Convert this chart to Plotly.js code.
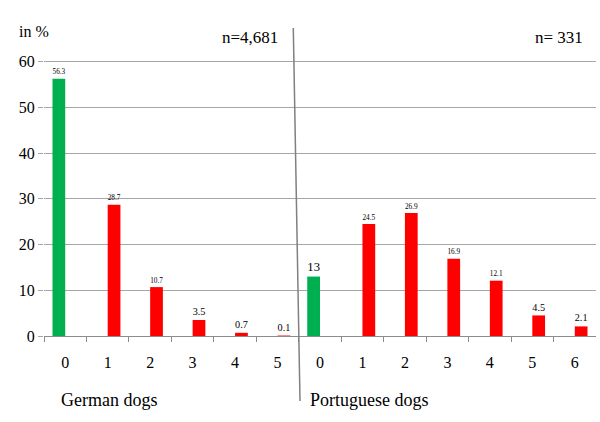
<!DOCTYPE html>
<html>
<head>
<meta charset="utf-8">
<script src="https://cdn.plot.ly/plotly-3.0.1.min.js"></script>
<style>html,body{margin:0;padding:0;background:#fff;}#chart{width:600px;height:422px;}</style>
</head>
<body>
<div id="chart"></div>
<script>
// Data
var germanLabels = ["0", "1", "2", "3", "4", "5"];
var germanValues = [56.3, 28.7, 10.7, 3.5, 0.7, 0.1];
var portugueseLabels = ["0", "1", "2", "3", "4", "5", "6"];
var portugueseValues = [13, 24.5, 26.9, 16.9, 12.1, 4.5, 2.1];
var groupNames = ["German dogs", "Portuguese dogs"];
var sampleSizes = ["n=4,681", "n= 331"];
var yTicks = [0, 10, 20, 30, 40, 50, 60];

var tickText = germanLabels.concat(portugueseLabels);
var allValues = germanValues.concat(portugueseValues);
var positions = allValues.map(function (v, i) { return i; });
// "0" categories are green, others red
var zeroIdx = [0, germanValues.length];

var gx = [], gy = [], rx = [], ry = [];
allValues.forEach(function (v, i) {
  if (zeroIdx.indexOf(i) >= 0) { gx.push(i); gy.push(v); }
  else { rx.push(i); ry.push(v); }
});

var traces = [
  {type: "bar", x: gx, y: gy, width: 0.3, offset: -0.3,
   marker: {color: "#00B050"}, text: gy.map(String), textposition: "outside"},
  {type: "bar", x: rx, y: ry, width: 0.3, offset: 0,
   marker: {color: "#FF0000"}, text: ry.map(String), textposition: "outside"}
];

var bounds = [];
for (var b = -0.5; b < allValues.length - 1; b += 1) bounds.push(b);

// plot area: x 44..596, y 48..336 (px)
var layout = {
  width: 600, height: 422,
  margin: {l: 44, r: 4, t: 48, b: 86},
  showlegend: false,
  font: {family: "Liberation Serif", size: 16, color: "#000"},
  xaxis: {
    range: [-0.5, allValues.length - 0.5],
    tickmode: "array", tickvals: positions, ticktext: tickText,
    ticks: "", showgrid: false, zeroline: false,
    showline: true, linecolor: "#8c8c8c",
    ticklabelstandoff: 12,
    minor: {tickmode: "array", tickvals: bounds, ticks: "outside", ticklen: 5,
            tickcolor: "#8c8c8c", showgrid: false}
  },
  yaxis: {
    range: [0, 63], tickmode: "array", tickvals: yTicks,
    showgrid: true, gridcolor: "#a6a6a6",
    zeroline: false,
    ticks: "outside", ticklen: 5, tickcolor: "#a6a6a6"
  },
  annotations: [
    {xref: "paper", yref: "paper", x: -0.049, y: 1.059, xanchor: "left", yanchor: "middle",
     text: "in %", showarrow: false},
    {xref: "paper", yref: "paper", x: 0.4275, y: 1.035, xanchor: "right", yanchor: "middle",
     text: sampleSizes[0], showarrow: false, font: {size: 17}},
    {xref: "paper", yref: "paper", x: 0.98, y: 1.035, xanchor: "right", yanchor: "middle",
     text: sampleSizes[1], showarrow: false, font: {size: 17}},
    {xref: "paper", yref: "paper", x: 0.027, y: -0.222, xanchor: "left", yanchor: "middle",
     text: groupNames[0], showarrow: false, font: {size: 18}},
    {xref: "paper", yref: "paper", x: 0.478, y: -0.222, xanchor: "left", yanchor: "middle",
     text: groupNames[1], showarrow: false, font: {size: 18}}
  ],
  shapes: [
    {type: "line", xref: "paper", yref: "paper",
     x0: (293.3 - 44) / 552, y0: (336 - 28) / 288, x1: (300 - 44) / 552, y1: (336 - 401) / 288,
     line: {color: "#808080", width: 1.5}}
  ]
};

Plotly.newPlot("chart", traces, layout, {displayModeBar: false, staticPlot: true});
</script>
</body>
</html>
